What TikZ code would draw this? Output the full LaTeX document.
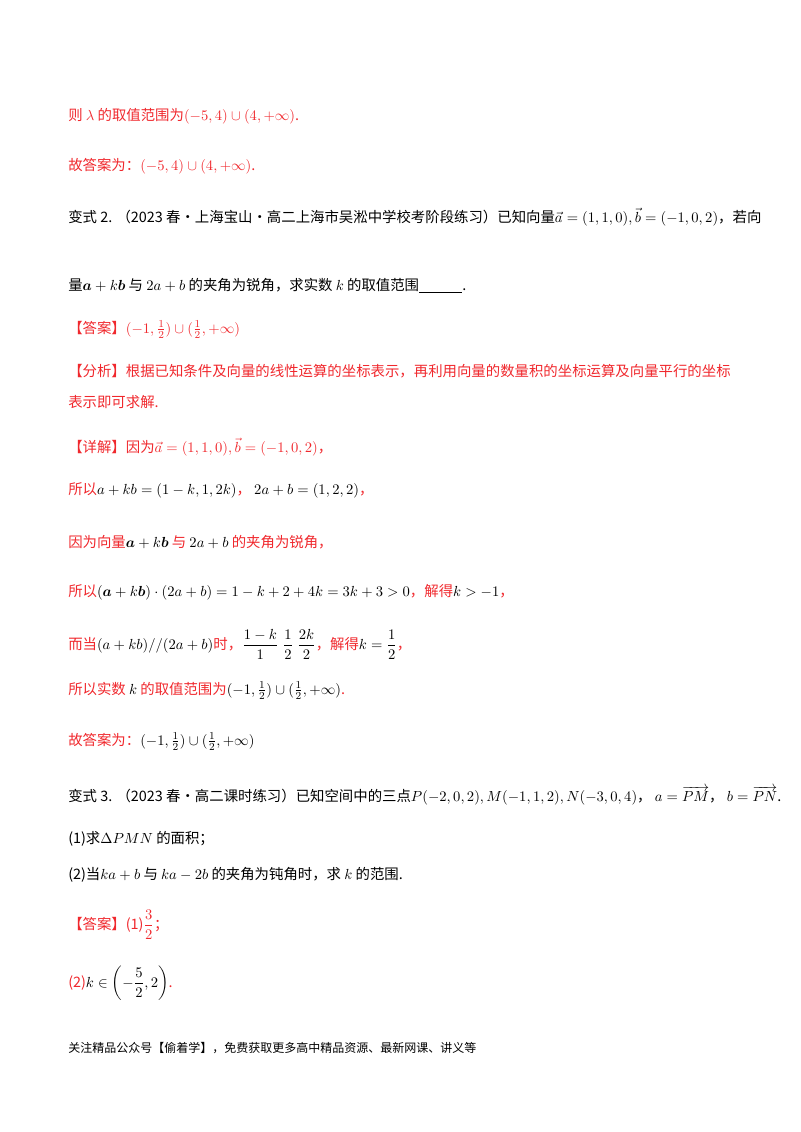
\documentclass[tikz,border=0pt]{standalone}
\usepackage{amsmath,amssymb}
\usepackage{fontspec}
\newfontfamily\cn{Noto Sans CJK SC}
\usepackage{tikz}
\definecolor{ansred}{HTML}{F0282D}
\newcommand{\bb}[1]{\boldsymbol{#1}}
\begin{document}
\begin{tikzpicture}[x=0.75pt,y=-0.75pt,
		row/.style={anchor=base west,inner sep=0,font=\cn\fontsize{10.8}{12}\selectfont},
		red/.style={row,text=ansred}]
		\useasboundingbox (0,0) rectangle (800,1132);

		\node[red] (l1) at (68,120) {则 $\lambda$ 的取值范围为$\left(-5,4\right)\cup\left(4,+\infty\right)$.};
		\node[red] (l2) at (68,170) {故答案为：$\left(-5,4\right)\cup\left(4,+\infty\right)$.};
		\node[row] (l3) at (68,222) {变式 2. （2023 春·上海宝山·高二上海市吴淞中学校考阶段练习）已知向量$\vec a=(1,1,0),\vec b=(-1,0,2)$，若向};
		\node[row] (l4) at (68,290) {量$\bb{a}+k\bb{b}$ 与 $2a+b$ 的夹角为锐角，求实数 $k$ 的取值范围\underline{\hspace{3em}}.};
		\node[red] (l5) at (68,333) {【答案】$(-1,\tfrac12)\cup(\tfrac12,+\infty)$};
		\node[red] (l6) at (68,376) {【分析】根据已知条件及向量的线性运算的坐标表示，再利用向量的数量积的坐标运算及向量平行的坐标};
		\node[red] (l7) at (68,407) {表示即可求解.};
		\node[red] (l8) at (68,452) {【详解】因为$\vec a=(1,1,0),\vec b=(-1,0,2)$，};
		\node[red] (l9) at (68,494) {所以$\textcolor{black}{a+kb=(1-k,1,2k)}$，\ $\textcolor{black}{2a+b=(1,2,2)}$，};
		\node[red] (l10) at (68,547) {因为向量$\textcolor{black}{\bb{a}+k\bb{b}}$ 与 $\textcolor{black}{2a+b}$ 的夹角为锐角，};
		\node[red] (l11) at (68,596) {所以$\textcolor{black}{(\bb{a}+k\bb{b})\cdot(2a+b)=1-k+2+4k=3k+3>0}$，解得$\textcolor{black}{k>-1}$，};
		\node[red] (l12) at (68,649) {而当$\textcolor{black}{(a+kb)//(2a+b)}$时，$\textcolor{black}{\dfrac{1-k}{1}\;\dfrac12\;\dfrac{2k}{2}}$，解得$\textcolor{black}{k=\dfrac12}$，};
		\node[red] (l13) at (68,694) {所以实数 $\textcolor{black}{k}$ 的取值范围为$\textcolor{black}{(-1,\tfrac12)\cup(\tfrac12,+\infty)}$.};
		\node[red] (l14) at (68,745) {故答案为：$\textcolor{black}{(-1,\tfrac12)\cup(\tfrac12,+\infty)}$};
		\node[row] (l15) at (68,801) {变式 3. （2023 春·高二课时练习）已知空间中的三点$P(-2,0,2),M(-1,1,2),N(-3,0,4)$，\ $a=\overrightarrow{PM}$，\ $b=\overrightarrow{PN}$.};
		\node[row] (l16) at (68,843) {(1)求$\Delta PMN$ 的面积；};
		\node[row] (l17) at (68,879) {(2)当$ka+b$ 与 $ka-2b$ 的夹角为钝角时，求 $k$ 的范围.};
		\node[red] (l18) at (68,929) {【答案】(1)$\dfrac32$；};
		\node[red] (l19) at (68,987) {(2)$\textcolor{black}{k\in\left(-\dfrac52,2\right)}$.};
		\node[row,font=\cn\fontsize{9}{11}\selectfont] (foot) at (68,1052) {关注精品公众号【偷着学】，免费获取更多高中精品资源、最新网课、讲义等};

\end{tikzpicture}
\end{document}
